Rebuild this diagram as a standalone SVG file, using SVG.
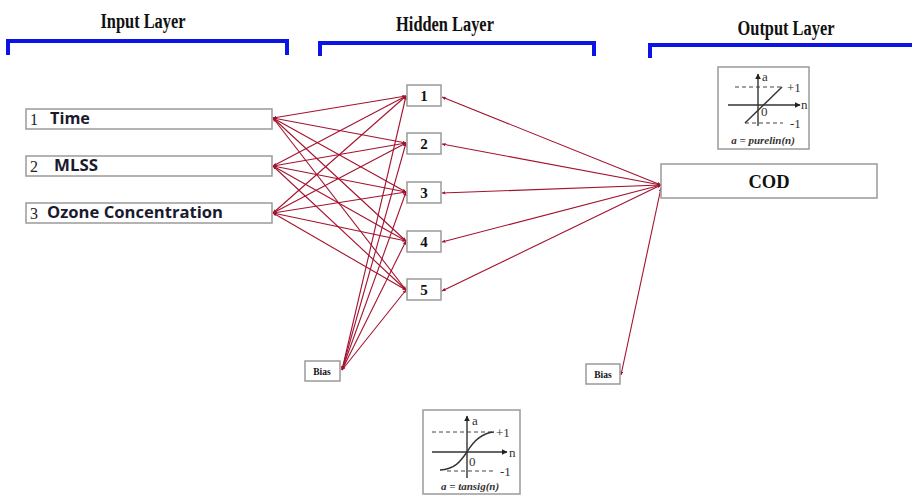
<svg xmlns="http://www.w3.org/2000/svg" width="912" height="497" viewBox="0 0 912 497">
  <style>
    .title { font-family: "Liberation Serif", "Times New Roman", serif; font-weight: bold; font-size: 20px; fill: #111; text-anchor: middle; }
    .bracket { fill: none; stroke: #0a14e6; stroke-width: 4; }
    .box { fill: #fff; stroke: #9a9a9a; stroke-width: 1.5; }
    .num { font-family: "Liberation Serif", serif; font-size: 16px; fill: #222; }
    .lbl { font-family: "Open Sans", "Liberation Sans", sans-serif; font-weight: bold; font-size: 15.5px; fill: #1a1a2e; }
    .hn { font-family: "Liberation Serif", serif; font-weight: bold; font-size: 15px; fill: #111; text-anchor: middle; }
    .bias { font-family: "Liberation Serif", serif; font-weight: bold; font-size: 9.5px; fill: #111; text-anchor: middle; }
    .cod { font-family: "Liberation Serif", serif; font-weight: bold; font-size: 18.5px; fill: #111; text-anchor: middle; }
    .conn line { stroke: #a3122e; stroke-width: 1.1; marker-start: url(#tip); marker-end: url(#tip); }
    .ax { stroke: #333; stroke-width: 1.4; fill: none; }
    .dash { stroke: #444; stroke-width: 1; stroke-dasharray: 4 3; fill: none; }
    .ft { font-family: "Liberation Serif", serif; font-size: 13px; fill: #333; }
    .cap { font-family: "Liberation Serif", serif; font-style: italic; font-weight: bold; font-size: 11px; fill: #333; text-anchor: middle; }
  </style>
  <defs>
    <marker id="tip" viewBox="0 0 10 10" refX="10" refY="5" markerWidth="3.5" markerHeight="3.5" orient="auto-start-reverse" markerUnits="userSpaceOnUse">
      <path d="M0,0 L10,5 L0,10 z" fill="#a3122e"/>
    </marker>
    <marker id="axh" viewBox="0 0 10 10" refX="9" refY="5" markerWidth="6" markerHeight="6" orient="auto" markerUnits="userSpaceOnUse">
      <path d="M0,0 L10,5 L0,10 z" fill="#222"/>
    </marker>
  </defs>

  <rect width="912" height="497" fill="#fff"/>

  <!-- layer headings with brackets -->
  <g id="layer-titles">
    <text class="title" transform="translate(143,28) scale(0.82,1)">Input Layer</text>
    <text class="title" transform="translate(445,31) scale(0.82,1)">Hidden Layer</text>
    <text class="title" transform="translate(786,35) scale(0.82,1)">Output Layer</text>
    <path class="bracket" d="M8,55 V41 H287 V55"/>
    <path class="bracket" d="M320,56 V43 H594 V56"/>
    <path class="bracket" d="M650,58 V45 H915"/>
  </g>

  <!-- connectors -->
  <g id="connectors" class="conn">
    <!-- inputs to hidden -->
    <line x1="273" y1="118" x2="406" y2="96"/>
    <line x1="273" y1="118" x2="406" y2="143"/>
    <line x1="273" y1="118" x2="406" y2="192"/>
    <line x1="273" y1="118" x2="406" y2="241"/>
    <line x1="273" y1="118" x2="406" y2="290"/>
    <line x1="273" y1="166" x2="406" y2="96"/>
    <line x1="273" y1="166" x2="406" y2="143"/>
    <line x1="273" y1="166" x2="406" y2="192"/>
    <line x1="273" y1="166" x2="406" y2="241"/>
    <line x1="273" y1="166" x2="406" y2="290"/>
    <line x1="273" y1="213" x2="406" y2="96"/>
    <line x1="273" y1="213" x2="406" y2="143"/>
    <line x1="273" y1="213" x2="406" y2="192"/>
    <line x1="273" y1="213" x2="406" y2="241"/>
    <line x1="273" y1="213" x2="406" y2="290"/>
    <!-- hidden bias -->
    <line x1="342" y1="370" x2="406" y2="96"/>
    <line x1="342" y1="370" x2="406" y2="143"/>
    <line x1="342" y1="370" x2="406" y2="192"/>
    <line x1="342" y1="370" x2="406" y2="241"/>
    <line x1="342" y1="370" x2="406" y2="290"/>
    <!-- hidden to output -->
    <line x1="442" y1="97" x2="661" y2="185"/>
    <line x1="442" y1="144" x2="661" y2="185"/>
    <line x1="442" y1="193" x2="661" y2="185"/>
    <line x1="442" y1="242" x2="661" y2="185"/>
    <line x1="442" y1="291" x2="661" y2="185"/>
    <!-- output bias -->
    <line x1="621" y1="375" x2="661" y2="188"/>
  </g>

  <!-- input nodes -->
  <g id="input-1">
    <rect class="box" x="26" y="109" width="246" height="20"/>
    <text class="num" x="30" y="125">1</text>
    <text class="lbl" x="50" y="124" textLength="40" lengthAdjust="spacingAndGlyphs">Time</text>
  </g>
  <g id="input-2">
    <rect class="box" x="26" y="156" width="246" height="20"/>
    <text class="num" x="30" y="172">2</text>
    <text class="lbl" x="54" y="171" textLength="44" lengthAdjust="spacingAndGlyphs">MLSS</text>
  </g>
  <g id="input-3">
    <rect class="box" x="26" y="203" width="246" height="20"/>
    <text class="num" x="30" y="219">3</text>
    <text class="lbl" x="47" y="218" textLength="176" lengthAdjust="spacingAndGlyphs">Ozone Concentration</text>
  </g>

  <!-- hidden nodes -->
  <g id="hidden-1">
    <rect class="box" x="407" y="85" width="34" height="21"/>
    <text class="hn" x="424" y="101">1</text>
  </g>
  <g id="hidden-2">
    <rect class="box" x="407" y="133" width="34" height="21"/>
    <text class="hn" x="424" y="149">2</text>
  </g>
  <g id="hidden-3">
    <rect class="box" x="407" y="182" width="34" height="21"/>
    <text class="hn" x="424" y="198">3</text>
  </g>
  <g id="hidden-4">
    <rect class="box" x="407" y="231" width="34" height="21"/>
    <text class="hn" x="424" y="247">4</text>
  </g>
  <g id="hidden-5">
    <rect class="box" x="407" y="279" width="34" height="21"/>
    <text class="hn" x="424" y="295">5</text>
  </g>

  <!-- bias nodes -->
  <g id="bias-hidden">
    <rect class="box" x="305" y="361" width="35" height="20"/>
    <text class="bias" x="322" y="375">Bias</text>
  </g>
  <g id="bias-output">
    <rect class="box" x="586" y="364" width="34" height="20"/>
    <text class="bias" x="603" y="378">Bias</text>
  </g>

  <!-- output node -->
  <g id="output-cod">
    <rect class="box" x="661" y="164" width="216" height="34"/>
    <text class="cod" x="769" y="188">COD</text>
  </g>

  <!-- tansig transfer function -->
  <g id="tansig">
    <rect class="box" x="423" y="410" width="97" height="84"/>
    <line class="dash" x1="432" y1="432" x2="494" y2="432"/>
    <line class="dash" x1="447" y1="471" x2="494" y2="471"/>
    <line class="ax" x1="467" y1="478" x2="467" y2="416" marker-end="url(#axh)"/>
    <line class="ax" x1="432" y1="452" x2="507" y2="452" marker-end="url(#axh)"/>
    <path class="ax" d="M440,470 C455,469 460,462 467,452 C474,440 482,433 494,432"/>
    <text class="ft" x="472" y="425">a</text>
    <text class="ft" x="509" y="457">n</text>
    <text class="ft" x="496" y="437">+1</text>
    <text class="ft" x="500" y="476">-1</text>
    <text class="ft" x="469" y="466">0</text>
    <text class="cap" x="470" y="490">a = tansig(n)</text>
  </g>

  <!-- purelin transfer function -->
  <g id="purelin">
    <rect class="box" x="718" y="67" width="91" height="82"/>
    <line class="dash" x1="735" y1="87" x2="783" y2="87"/>
    <line class="dash" x1="745" y1="123" x2="783" y2="123"/>
    <line class="ax" x1="758" y1="126" x2="758" y2="74" marker-end="url(#axh)"/>
    <line class="ax" x1="728" y1="105" x2="800" y2="105" marker-end="url(#axh)"/>
    <line class="ax" x1="745" y1="123" x2="782" y2="87"/>
    <text class="ft" x="762" y="81">a</text>
    <text class="ft" x="801" y="109">n</text>
    <text class="ft" x="787" y="92">+1</text>
    <text class="ft" x="790" y="128">-1</text>
    <text class="ft" x="761" y="116">0</text>
    <text class="cap" x="763" y="144">a = purelin(n)</text>
  </g>
</svg>
